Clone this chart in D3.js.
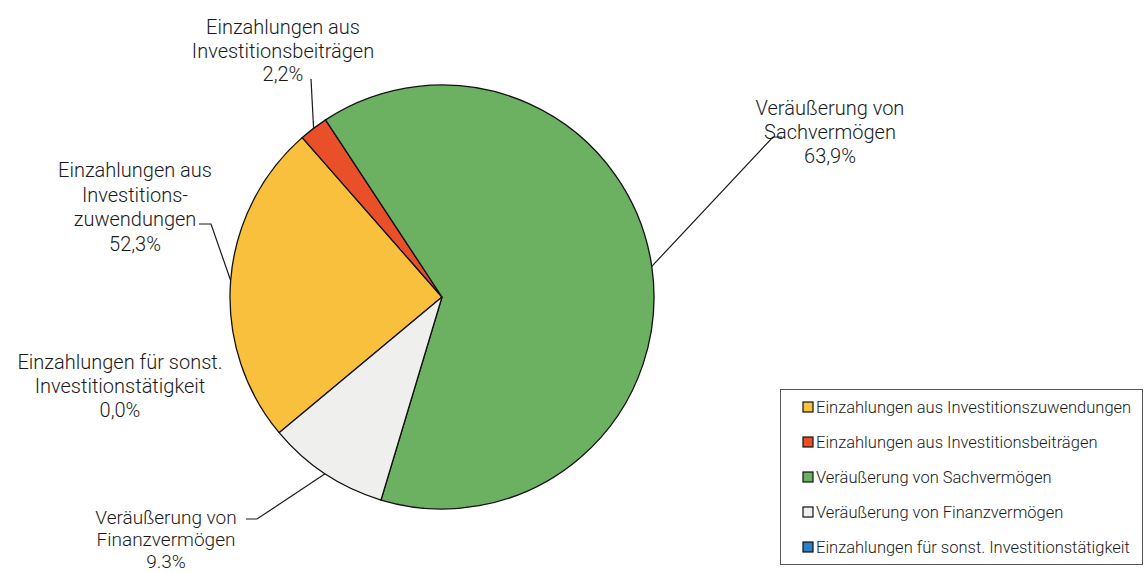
<!DOCTYPE html>
<html>
<head>
<meta charset="utf-8">
<script src="https://cdn.jsdelivr.net/npm/d3@7"></script>
<style>
  body { margin: 0; background: #fff; }
  svg text { font-family: Roboto, "Liberation Sans", sans-serif; font-weight: 300; fill: #1a1a1a; }
</style>
</head>
<body>
<div id="vis-container"></div>
<script>
// categories in legend order
var categories = [
  "Einzahlungen aus Investitionszuwendungen",
  "Einzahlungen aus Investitionsbeiträgen",
  "Veräußerung von Sachvermögen",
  "Veräußerung von Finanzvermögen",
  "Einzahlungen für sonst. Investitionstätigkeit"
];
// slice shares (percent) as drawn
var shares = [24.6, 2.2, 63.9, 9.3, 0.0];
// label texts as printed
var labelLines = [
  ["Einzahlungen aus", "Investitions-", "zuwendungen", "52,3%"],
  ["Einzahlungen aus", "Investitionsbeiträgen", "2,2%"],
  ["Veräußerung von", "Sachvermögen", "63,9%"],
  ["Veräußerung von", "Finanzvermögen", "9.3%"],
  ["Einzahlungen für sonst.", "Investitionstätigkeit", "0,0%"]
];
var colors = ["#f8c03c", "#e9502a", "#6cb061", "#efefed", "#2a80c6"];

var width = 1144, height = 573;
var cx = 442, cy = 297, radius = 212;

// label placement: centre x, first line y, line step, font size, leader elbow + end
var labelPos = [
  { x: 135, y: 177, step: 24.5, size: 20, leader: [[211, 224], [199, 224]] },
  { x: 283, y: 34, step: 23.5, size: 20, leader: [[311, 79]] },
  { x: 830, y: 115, step: 24, size: 20, leader: [[773, 137], [782, 137]] },
  { x: 166, y: 524, step: 22, size: 19, leader: [[257, 519], [246, 519]] },
  { x: 120, y: 369, step: 24, size: 20, leader: null }
];

var svg = d3.select("#vis-container")
  .append("svg")
  .attr("width", width)
  .attr("height", height);

var data = categories.map(function (c, i) {
  return { name: c, value: shares[i], color: colors[i], lines: labelLines[i], pos: labelPos[i] };
});

var start = -129.8 * Math.PI / 180;
var pie = d3.pie()
  .sort(null)
  .value(function (d) { return d.value; })
  .startAngle(start)
  .endAngle(start + 2 * Math.PI);

var arcs = pie(data);
var arc = d3.arc().innerRadius(0).outerRadius(radius);
var edge = d3.arc().innerRadius(radius).outerRadius(radius);

var g = svg.append("g").attr("transform", "translate(" + cx + "," + cy + ")");

g.selectAll("path.slice")
  .data(arcs.filter(function (d) { return d.value > 0; }))
  .enter()
  .append("path")
  .attr("class", "slice")
  .attr("d", arc)
  .attr("fill", function (d) { return d.data.color; })
  .attr("stroke", "#111")
  .attr("stroke-width", 1.3)
  .attr("stroke-linejoin", "round");

// leader lines
var line = d3.line();
arcs.forEach(function (d) {
  var p = d.data.pos;
  if (!p.leader) return;
  var c = edge.centroid(d);
  var pts = [[cx + c[0], cy + c[1]]].concat(p.leader);
  svg.append("path")
    .attr("d", line(pts))
    .attr("fill", "none")
    .attr("stroke", "#1a1a1a")
    .attr("stroke-width", 1.2);
});

// labels
data.forEach(function (d) {
  var t = svg.append("text")
    .attr("text-anchor", "middle")
    .style("font-size", d.pos.size + "px");
  d.lines.forEach(function (s, i) {
    t.append("tspan")
      .attr("x", d.pos.x)
      .attr("y", d.pos.y + i * d.pos.step)
      .text(s);
  });
});

// legend
var legend = svg.append("g").attr("transform", "translate(780,389)");
legend.append("rect")
  .attr("x", 0.5).attr("y", 0.5)
  .attr("width", 362).attr("height", 175)
  .attr("fill", "#fff")
  .attr("stroke", "#555")
  .attr("stroke-width", 1);

var ly = d3.scalePoint().domain(categories).range([18, 158]);

var items = legend.selectAll("g.item")
  .data(data)
  .enter()
  .append("g")
  .attr("class", "item")
  .attr("transform", function (d) { return "translate(0," + ly(d.name) + ")"; });

items.append("rect")
  .attr("x", 23).attr("y", -5)
  .attr("width", 10).attr("height", 10)
  .attr("fill", function (d) { return d.color; })
  .attr("stroke", "#111")
  .attr("stroke-width", 1.2);

items.append("text")
  .attr("x", 36)
  .attr("y", 6)
  .style("font-size", "16.5px")
  .text(function (d) { return d.name; });
</script>
</body>
</html>
